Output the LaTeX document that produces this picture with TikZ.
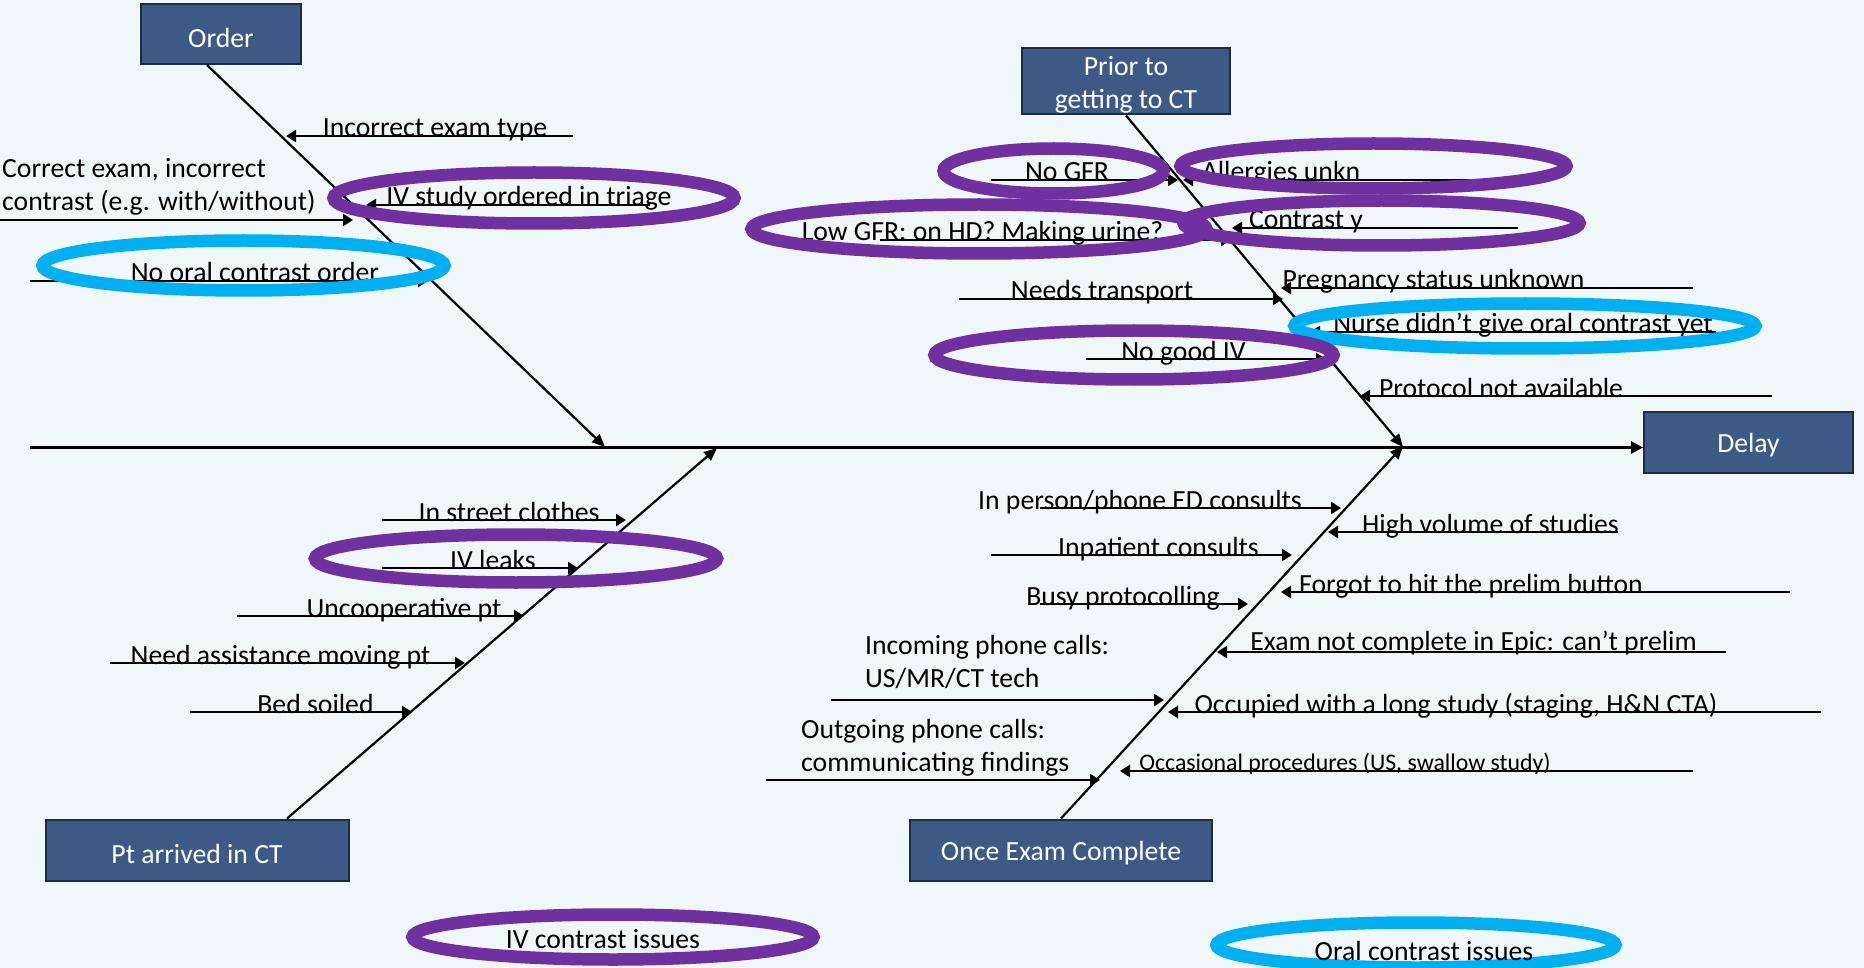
\documentclass[tikz,border=0pt]{standalone}
\usepackage{fontspec}
\setmainfont{Carlito}
\usetikzlibrary{arrows.meta}
\definecolor{bgc}{HTML}{EFF7FA}
\definecolor{boxc}{HTML}{3D5A87}
\definecolor{boxd}{HTML}{1E2B40}
\definecolor{ppl}{HTML}{7030A0}
\definecolor{sky}{HTML}{00B0F0}
\newcommand\sbone[4]{\coordinate (#1s) at (#2,#4); \coordinate (#1t) at (#3,#4); \draw[sub] (#1s) -- (#1t);}
\newcommand\lowr[1]{\raisebox{-3.5pt}[\height][\depth]{#1}}
\begin{document}
\begin{tikzpicture}[x=1pt,y=-1pt,
 box/.style={draw=boxd, line width=2pt, fill=boxc, text=white, font=\fontsize{27.7pt}{33pt}\selectfont, inner sep=0pt, align=center},
 spine/.style={line width=2.8pt, -{Triangle[length=12pt,width=12pt]}},
 bone/.style={line width=2.2pt, -{Triangle[length=13pt,width=11pt]}},
 sub/.style={line width=2.8pt, -{Triangle[length=10pt,width=12pt]}},
 lbl/.style={font=\fontsize{27.7pt}{33pt}\selectfont, inner sep=0pt, anchor=base},
 slbl/.style={font=\fontsize{23.8pt}{28pt}\selectfont, inner sep=0pt, anchor=base},
 ovp/.style={draw=ppl, line width=12.5pt},
 ovb/.style={draw=sky, line width=12.5pt},
]
\fill[bgc] (0,0) rectangle (1864,968);
\useasboundingbox (0,0) rectangle (1864,968);

% boxes
\node[box, minimum width=160pt, minimum height=60pt] (ord) at (221,34) {\lowr{Order}};
\node[box, minimum width=208pt, minimum height=61pt] (pri) at (1126,81.5) {\lowr{\begin{tabular}{@{}c@{}}Prior to\\getting to CT\end{tabular}}};
\node[box, minimum width=209pt, minimum height=61pt] (del) at (1748.5,442) {\lowr{Delay}};
\node[box, minimum width=303pt, minimum height=61pt] (pta) at (197,850) {\lowr{Pt arrived in CT}};
\node[box, minimum width=302pt, minimum height=61pt] (onc) at (1061,850) {\lowr{Once Exam Complete}};

% spine
\coordinate (spL) at (30,447.5);
\draw[spine] (spL) -- (spL -| del.west);

% bones
\coordinate (oB) at (605,447);
\coordinate (pB) at (1403,447);
\coordinate (tB) at (717,448);
\coordinate (eB) at (1403,446);
\draw[bone] ([xshift=-14pt]ord.south) -- (oB);
\draw[bone] (pri.south) -- (pB);
\draw[bone] ([xshift=90pt]pta.north) -- (tB);
\draw[bone] (onc.north) -- (eB);

% Order causes
\sbone{a1}{573}{286}{136}
\node[lbl] (a1l) at (435,137) {Incorrect exam type};
\sbone{a2}{0}{353}{220}
\node[lbl, anchor=base west] (a2l) at (2,211) {\begin{tabular}[b]{@{}l@{}}Correct exam, incorrect\\contrast (e.g. with/without)\end{tabular}};
\sbone{a3}{650}{366}{205}
\node[lbl] (a3l) at (529,206) {IV study ordered in triage};
\sbone{a4}{30}{428}{281}
\node[lbl] (a4l) at (255,282) {No oral contrast order};

% Prior causes
\sbone{b1}{991}{1178}{180}
\node[lbl] (b1l) at (1067,181) {No GFR};
\sbone{b2}{1485}{1183}{180}
\node[lbl] (b2l) at (1281,181) {Allergies unkn};
\sbone{b3}{880}{1231}{240}
\node[lbl] (b3l) at (982.5,241) {Low GFR: on HD? Making urine?};
\sbone{b4}{1518}{1232}{228}
\node[lbl] (b4l) at (1306,229) {Contrast y};
\sbone{b5}{1693}{1281}{288}
\node[lbl] (b5l) at (1433.5,289) {Pregnancy status unknown};
\sbone{b6}{959}{1283}{299}
\node[lbl] (b6l) at (1102,300) {Needs transport};
\sbone{b7}{1716}{1310}{332}
\node[lbl] (b7l) at (1523,333) {Nurse didn’t give oral contrast yet};
\sbone{b8}{1086}{1326}{359}
\node[lbl] (b8l) at (1183.5,360) {No good IV};
\sbone{b9}{1772}{1360}{396}
\node[lbl] (b9l) at (1501,397) {Protocol not available};

% Pt arrived causes
\sbone{c1}{382}{626}{520}
\node[lbl] (c1l) at (509,521) {In street clothes};
\sbone{c2}{382}{578}{568}
\node[lbl] (c2l) at (493,569) {IV leaks};
\sbone{c3}{237}{524}{616}
\node[lbl] (c3l) at (404,617) {Uncooperative pt};
\sbone{c4}{110}{465}{663}
\node[lbl] (c4l) at (280.5,664) {Need assistance moving pt};
\sbone{c5}{190}{412}{712}
\node[lbl] (c5l) at (315.5,713) {Bed soiled};

% Once exam complete causes
\sbone{d1}{1040}{1341}{508}
\node[lbl] (d1l) at (1140,509) {In person/phone ED consults};
\sbone{d2}{1618}{1328}{532}
\node[lbl] (d2l) at (1490.5,533) {High volume of studies};
\sbone{d3}{991}{1292}{555}
\node[lbl] (d3l) at (1158.5,556) {Inpatient consults};
\sbone{d4}{1790}{1281}{592}
\node[lbl] (d4l) at (1471,593) {Forgot to hit the prelim button};
\sbone{d5}{1040}{1248}{604}
\node[lbl] (d5l) at (1123,605) {Busy protocolling};
\sbone{d6}{1726}{1217}{652}
\node[lbl] (d6l) at (1473.5,650) {Exam not complete in Epic: can’t prelim};
\sbone{d7}{831}{1164}{700}
\node[lbl, anchor=base west] (d7l) at (865,687) {\begin{tabular}[b]{@{}l@{}}Incoming phone calls:\\US/MR/CT tech\end{tabular}};
\sbone{d8}{1821}{1168}{712}
\node[lbl] (d8l) at (1456,713) {Occupied with a long study (staging, H\&N CTA)};
\sbone{d9}{766}{1100}{780}
\node[lbl, anchor=base west] (d9l) at (801,771) {\begin{tabular}[b]{@{}l@{}}Outgoing phone calls:\\communicating findings\end{tabular}};
\sbone{d10}{1693}{1120}{771}
\node[slbl] (d10l) at (1345,770) {Occasional procedures (US, swallow study)};

% highlight ovals
\draw[ovp] (534,198) ellipse [x radius=200.5pt, y radius=25.5pt];
\draw[ovb] (243.5,265.5) ellipse [x radius=201pt, y radius=25pt];
\draw[ovp] (1053.5,171) ellipse [x radius=110pt, y radius=22.5pt];
\draw[ovp] (1373.5,166) ellipse [x radius=193pt, y radius=22.5pt];
\draw[ovp] (979,229) ellipse [x radius=227.5pt, y radius=24.5pt];
\draw[ovp] (1381.5,223) ellipse [x radius=198pt, y radius=22.5pt];
\draw[ovb] (1525,326) ellipse [x radius=230.5pt, y radius=22.5pt];
\draw[ovp] (1134,355) ellipse [x radius=199.5pt, y radius=24.5pt];
\draw[ovp] (516,558.5) ellipse [x radius=201pt, y radius=24pt];
\draw[ovp] (613,937) ellipse [x radius=200.5pt, y radius=22.5pt];
\draw[ovb] (1416,945) ellipse [x radius=199.5pt, y radius=22.5pt];
\node[lbl] (iv) at (603,948) {IV contrast issues};
\node[lbl] (oc) at (1424,960) {Oral contrast issues};
\end{tikzpicture}
\end{document}
